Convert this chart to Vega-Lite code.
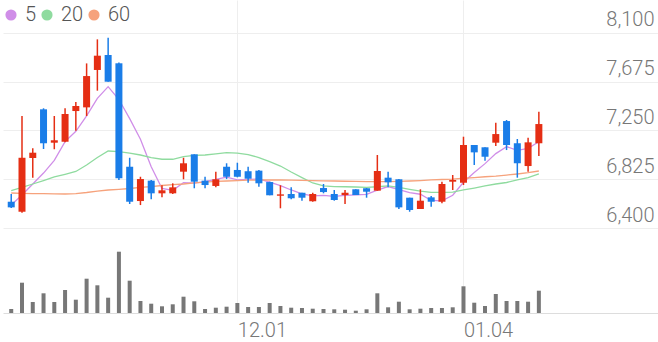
{
  "$schema": "https://vega.github.io/schema/vega-lite/v6.json",
  "width": 655,
  "height": 313,
  "autosize": {"type": "none"},
  "padding": {"left": 3, "top": 0, "right": 0, "bottom": 29},
  "background": "white",
  "config": {"view": {"stroke": null}, "font": "Roboto"},
  "data": {"values": [
    {"i":0,"o":6631,"h":6698,"l":6576,"c":6582,"v":4000,"5":6602,"20":6727,"60":6707},
    {"i":1,"o":6544,"h":7376,"l":6536,"c":7013,"v":30300,"5":6689,"20":6755,"60":6704},
    {"i":2,"o":7011,"h":7095,"l":6840,"c":7057,"v":11000,"5":6785,"20":6785,"60":6702},
    {"i":3,"o":7434,"h":7443,"l":7089,"c":7139,"v":19700,"5":6880,"20":6815,"60":6701},
    {"i":4,"o":7144,"h":7376,"l":7087,"c":7165,"v":11000,"5":6991,"20":6846,"60":6699},
    {"i":5,"o":7153,"h":7443,"l":7147,"c":7393,"v":23000,"5":7153,"20":6869,"60":6698},
    {"i":6,"o":7419,"h":7498,"l":7248,"c":7463,"v":13300,"5":7243,"20":6894,"60":6701},
    {"i":7,"o":7451,"h":7833,"l":7376,"c":7723,"v":34300,"5":7377,"20":6950,"60":6711},
    {"i":8,"o":7776,"h":8042,"l":7596,"c":7900,"v":27700,"5":7529,"20":7015,"60":6724},
    {"i":9,"o":7906,"h":8056,"l":7674,"c":7674,"v":15300,"5":7631,"20":7072,"60":6733},
    {"i":10,"o":7834,"h":7840,"l":6820,"c":6835,"v":61300,"5":7519,"20":7067,"60":6739},
    {"i":11,"o":6935,"h":7013,"l":6611,"c":6631,"v":32300,"5":7353,"20":7054,"60":6746},
    {"i":12,"o":6637,"h":6848,"l":6602,"c":6828,"v":12000,"5":7174,"20":7037,"60":6755},
    {"i":13,"o":6814,"h":6820,"l":6652,"c":6704,"v":9300,"5":6934,"20":7015,"60":6763},
    {"i":14,"o":6704,"h":6774,"l":6669,"c":6730,"v":6700,"5":6746,"20":7000,"60":6772},
    {"i":15,"o":6704,"h":6791,"l":6698,"c":6756,"v":8700,"5":6730,"20":7000,"60":6779},
    {"i":16,"o":6892,"h":7013,"l":6826,"c":6965,"v":16300,"5":6797,"20":7022,"60":6785},
    {"i":17,"o":7043,"h":7043,"l":6748,"c":6805,"v":11700,"5":6792,"20":7034,"60":6794},
    {"i":18,"o":6814,"h":6848,"l":6748,"c":6776,"v":4000,"5":6806,"20":7037,"60":6802},
    {"i":19,"o":6768,"h":6892,"l":6756,"c":6826,"v":5300,"5":6826,"20":7046,"60":6807},
    {"i":20,"o":6935,"h":6965,"l":6828,"c":6848,"v":6300,"5":6844,"20":7057,"60":6811},
    {"i":21,"o":6907,"h":6970,"l":6843,"c":6848,"v":10000,"5":6821,"20":7054,"60":6815},
    {"i":22,"o":6896,"h":6935,"l":6796,"c":6831,"v":6000,"5":6826,"20":7041,"60":6818},
    {"i":23,"o":6901,"h":6907,"l":6762,"c":6791,"v":6000,"5":6829,"20":7015,"60":6820},
    {"i":24,"o":6802,"h":6805,"l":6687,"c":6687,"v":10000,"5":6801,"20":6979,"60":6820},
    {"i":25,"o":6683,"h":6774,"l":6574,"c":6695,"v":7000,"5":6770,"20":6941,"60":6820},
    {"i":26,"o":6698,"h":6756,"l":6652,"c":6661,"v":5300,"5":6733,"20":6889,"60":6818},
    {"i":27,"o":6709,"h":6709,"l":6640,"c":6666,"v":5000,"5":6700,"20":6841,"60":6816},
    {"i":28,"o":6635,"h":6709,"l":6631,"c":6698,"v":4300,"5":6681,"20":6794,"60":6815},
    {"i":29,"o":6750,"h":6785,"l":6704,"c":6715,"v":4000,"5":6687,"20":6768,"60":6813},
    {"i":30,"o":6698,"h":6733,"l":6640,"c":6646,"v":3700,"5":6677,"20":6763,"60":6811},
    {"i":31,"o":6689,"h":6733,"l":6611,"c":6709,"v":3300,"5":6687,"20":6761,"60":6809},
    {"i":32,"o":6739,"h":6739,"l":6689,"c":6689,"v":2300,"5":6691,"20":6759,"60":6808},
    {"i":33,"o":6748,"h":6750,"l":6666,"c":6718,"v":3700,"5":6695,"20":6756,"60":6806},
    {"i":34,"o":6727,"h":7037,"l":6727,"c":6898,"v":19700,"5":6732,"20":6761,"60":6805},
    {"i":35,"o":6840,"h":6892,"l":6756,"c":6800,"v":5700,"5":6763,"20":6768,"60":6805},
    {"i":36,"o":6826,"h":6828,"l":6568,"c":6582,"v":11300,"5":6737,"20":6755,"60":6808},
    {"i":37,"o":6666,"h":6666,"l":6544,"c":6559,"v":3700,"5":6711,"20":6739,"60":6811},
    {"i":38,"o":6568,"h":6739,"l":6568,"c":6640,"v":4300,"5":6696,"20":6724,"60":6815},
    {"i":39,"o":6669,"h":6681,"l":6588,"c":6631,"v":5000,"5":6642,"20":6713,"60":6820},
    {"i":40,"o":6631,"h":6805,"l":6618,"c":6785,"v":5000,"5":6639,"20":6713,"60":6824},
    {"i":41,"o":6805,"h":6863,"l":6733,"c":6820,"v":5700,"5":6687,"20":6715,"60":6828},
    {"i":42,"o":6796,"h":7196,"l":6776,"c":7124,"v":26700,"5":6800,"20":6733,"60":6835},
    {"i":43,"o":7124,"h":7124,"l":6950,"c":7060,"v":10300,"5":6884,"20":6750,"60":6841},
    {"i":44,"o":7104,"h":7104,"l":6987,"c":7022,"v":7000,"5":6962,"20":6768,"60":6848},
    {"i":45,"o":7144,"h":7318,"l":7115,"c":7219,"v":19000,"5":7049,"20":6785,"60":6854},
    {"i":46,"o":7332,"h":7341,"l":7080,"c":7124,"v":12000,"5":7110,"20":6798,"60":6863},
    {"i":47,"o":7139,"h":7176,"l":6840,"c":6965,"v":12000,"5":7078,"20":6820,"60":6872},
    {"i":48,"o":6941,"h":7187,"l":6892,"c":7147,"v":11300,"5":7095,"20":6841,"60":6883},
    {"i":49,"o":7139,"h":7413,"l":7028,"c":7306,"v":22300,"5":7152,"20":6872,"60":6898}
  ]},
  "encoding": {
    "x": {
      "field": "i", "type": "quantitative",
      "scale": {"domain": [-0.3, 59.6], "nice": false, "zero": false},
      "axis": {
        "values": [21, 42],
        "labelExpr": "datum.value == 21 ? '12.01' : '01.04'",
        "title": null, "grid": true, "gridColor": "#eeeeee", "gridWidth": 1,
        "domainColor": "#dddddd", "domainWidth": 1, "ticks": false,
        "labelAlign": "left", "labelBaseline": "top", "labelPadding": 7,
        "labelFontSize": 20, "labelColor": "#777777", "labelFont": "Roboto", "labelFontWeight": 300
      }
    }
  },
  "layer": [
    {
      "layer": [
        {
          "transform": [{"fold": ["5", "20", "60"], "as": ["key", "val"]}],
          "mark": {"type": "line", "strokeWidth": 1.3},
          "encoding": {
            "y": {
              "field": "val", "type": "quantitative",
              "scale": {"domain": [5664, 8384], "nice": false, "zero": false},
              "axis": {
                "orient": "right", "values": [6400, 6825, 7250, 7675, 8100], "format": ",.0f",
                "title": null, "grid": true, "gridColor": "#eeeeee", "domain": false, "ticks": false,
                "labelAlign": "right", "labelPadding": -4, "labelOffset": -7, "labelBaseline": "alphabetic",
                "labelFontSize": 20, "labelColor": "#777777", "labelFont": "Roboto", "labelFontWeight": 300
              }
            },
            "color": {
              "field": "key", "type": "nominal",
              "scale": {"domain": ["5", "20", "60"], "range": ["#d08ee8", "#8fdb9f", "#f6a27c"]},
              "legend": {
                "orient": "none", "legendX": -2, "legendY": 5, "direction": "horizontal",
                "title": null, "symbolType": "circle", "symbolSize": 125, "symbolStrokeWidth": 0,
                "labelFontSize": 20, "labelColor": "#555555", "labelFont": "Roboto", "labelFontWeight": 300,
                "gridAlign": "each", "columnPadding": -8, "labelOffset": 4, "padding": 0,
                "encode": {"symbols": {"update": {"fill": {"scale": "color", "field": "value"}, "strokeWidth": {"value": 0}}}}
              }
            }
          }
        },
        {
          "mark": {"type": "rule", "strokeWidth": 1.5},
          "encoding": {
            "y": {"field": "l", "type": "quantitative"},
            "y2": {"field": "h"},
            "color": {"condition": {"test": "datum.c >= datum.o", "value": "#e52e14"}, "value": "#1a7de8"}
          }
        },
        {
          "mark": {"type": "bar", "size": 7},
          "encoding": {
            "y": {"field": "o", "type": "quantitative"},
            "y2": {"field": "c"},
            "color": {"condition": {"test": "datum.c >= datum.o", "value": "#e52e14"}, "value": "#1a7de8"}
          }
        }
      ]
    },
    {
      "mark": {"type": "bar", "size": 4, "color": "#777777"},
      "encoding": {
        "y": {"field": "v", "type": "quantitative", "scale": {"domain": [0, 313000], "nice": false}, "axis": null}
      }
    }
  ],
  "resolve": {"scale": {"y": "independent"}}
}
